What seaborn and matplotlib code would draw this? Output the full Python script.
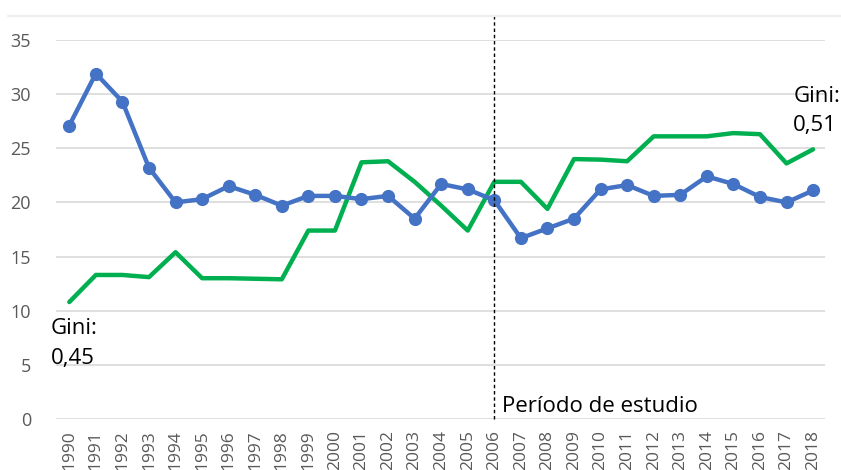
import matplotlib
matplotlib.use("Agg")
import matplotlib.pyplot as plt
import pandas as pd
import seaborn as sns

years = list(range(1990, 2019))
blue_values = [27.1, 31.9, 29.3, 23.2, 20.0, 20.3, 21.5, 20.7, 19.7, 20.6,
               20.6, 20.3, 20.6, 18.5, 21.7, 21.2, 20.2, 16.7, 17.6, 18.5,
               21.2, 21.6, 20.6, 20.7, 22.4, 21.7, 20.5, 20.0, 21.1]
green_values = [10.8, 13.3, 13.3, 13.1, 15.4, 13.0, 13.0, 12.95, 12.9, 17.4,
                17.4, 23.7, 23.8, 21.9, 19.7, 17.4, 21.9, 21.9, 19.4, 24.0,
                23.95, 23.8, 26.1, 26.1, 26.1, 26.4, 26.3, 23.6, 24.9]
y_ticks = [0, 5, 10, 15, 20, 25, 30, 35]
study_start = 2006

df = pd.DataFrame({"year": years, "blue": blue_values, "green": green_values})

sns.set_theme(style="white")
plt.rcParams["font.family"] = ["Open Sans", "DejaVu Sans"]

fig = plt.figure(figsize=(8.41, 4.70), dpi=100)
ax = fig.add_axes([0.0666, 0.1085, 0.9144, 0.8065])

# horizontal gridlines like the Excel original
for t in y_ticks:
    ax.axhline(t, color="#d9d9d9", lw=1.2, zorder=0)

sns.lineplot(data=df, x="year", y="green", color="#00B050", lw=3.2,
             ax=ax, zorder=2)
sns.lineplot(data=df, x="year", y="blue", color="#4472C4", lw=3.2,
             marker="o", markersize=9.5, markeredgewidth=0, ax=ax, zorder=3)

# study period marker
ax.plot([study_start, study_start], [0, 37.45], color="black", lw=1,
        ls=(0, (2.5, 2)), clip_on=False, zorder=4)

ax.set_xlim(1989.5, 2018.45)
ax.set_ylim(0, 35)
ax.set_xticks(years)
ax.set_xticklabels([str(y) for y in years], rotation=90, fontsize=12.5,
                   color="#595959")
ax.set_yticks(y_ticks)
ax.set_yticklabels([str(t) for t in y_ticks], fontsize=13, color="#595959")
ax.tick_params(axis="both", length=0)
ax.tick_params(axis="y", pad=18)
ax.tick_params(axis="x", pad=8)
ax.set_xlabel("")
ax.set_ylabel("")
sns.despine(ax=ax, left=True, bottom=True)

ax.text(1989.3, 8.4, "Gini:", fontsize=16, color="black", va="center",
        ha="left")
ax.text(1989.3, 5.6, "0,45", fontsize=16, color="black", va="center",
        ha="left")
ax.text(2017.25, 29.8, "Gini:", fontsize=16, color="black", va="center",
        ha="left", clip_on=False)
ax.text(2017.25, 27.1, "0,51", fontsize=16, color="black", va="center",
        ha="left", clip_on=False)
ax.text(2006.3, 1.2, "Período de estudio", fontsize=16, color="black",
        va="center", ha="left")

# faint chart border on top
fig.add_artist(plt.Line2D([0.01, 1.0], [0.966, 0.966], color="#eeeeee",
                          lw=1.5, transform=fig.transFigure))

fig.savefig("out.png", dpi=100)
